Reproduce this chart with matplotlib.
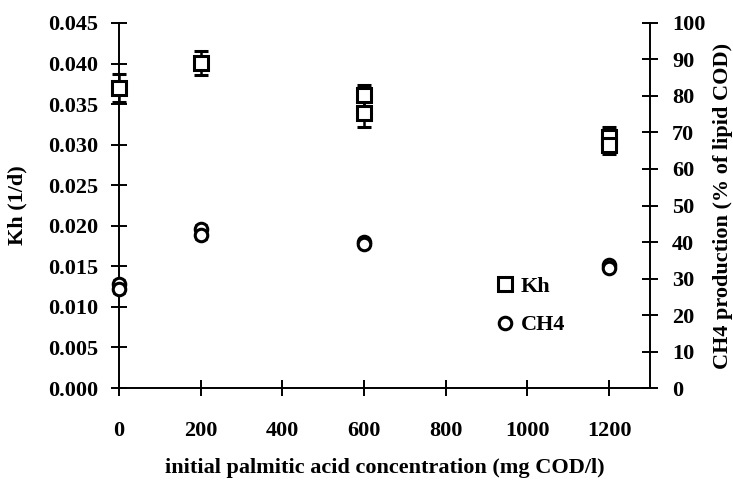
import matplotlib
matplotlib.use("Agg")
import matplotlib.pyplot as plt
from matplotlib.lines import Line2D

plt.rcParams['font.family'] = ['Liberation Serif', 'DejaVu Serif']
plt.rcParams['font.size'] = 16
plt.rcParams['font.weight'] = 'bold'
plt.rcParams['axes.labelweight'] = 'bold'

# Data
kh_x = [0, 200, 600, 600, 1200, 1200]
kh_y = [0.0370, 0.0401, 0.0361, 0.0339, 0.0310, 0.0300]
kh_err = [0.0017, 0.0015, 0.0013, 0.0017, 0.0012, 0.0012]

ch4_x = [0, 0, 200, 200, 600, 600, 1200, 1200]
ch4_y = [28.5, 27.0, 43.5, 42.0, 40.0, 39.5, 33.8, 33.0]
ch4_err = [1.0, 1.0, 1.2, 1.2, 0.6, 0.6, 0.8, 0.8]

x_ticks = [0, 200, 400, 600, 800, 1000, 1200]
left_ticks = [0.000, 0.005, 0.010, 0.015, 0.020, 0.025, 0.030, 0.035, 0.040, 0.045]
right_ticks = [0, 10, 20, 30, 40, 50, 60, 70, 80, 90, 100]

fig = plt.figure(figsize=(7.33, 4.82), dpi=100)
ax = fig.add_axes([0.1623, 0.195, 0.7245, 0.7573])
ax2 = ax.twinx()

ax.errorbar(kh_x, kh_y, yerr=kh_err, fmt='s', mfc='white', mec='black',
            mew=2.2, ms=10, ecolor='black', elinewidth=1.8, capsize=5,
            capthick=2.5, zorder=3, clip_on=False)
ax2.errorbar(ch4_x, ch4_y, yerr=ch4_err, fmt='o', mfc='white', mec='black',
             mew=2.2, ms=9, ecolor='black', elinewidth=1.8, capsize=4,
             capthick=2.5, zorder=3, clip_on=False)

ax.set_xlim(0, 1300)
ax.set_ylim(0, 0.045)
ax2.set_ylim(0, 100)

ax.set_xticks(x_ticks)
ax.set_xticklabels([str(v) for v in x_ticks])
ax.set_yticks(left_ticks)
ax.set_yticklabels([f"{v:.3f}" for v in left_ticks])
ax2.set_yticks(right_ticks)
ax2.set_yticklabels([str(v) for v in right_ticks])

for a in (ax, ax2):
    a.spines['top'].set_visible(False)
    for s in a.spines.values():
        s.set_linewidth(1.4)
ax.spines['right'].set_visible(False)
ax2.spines['left'].set_visible(False)
ax2.spines['bottom'].set_visible(False)

ax.tick_params(axis='both', direction='inout', length=12, width=1.4)
ax.tick_params(axis='y', pad=9)
ax.tick_params(axis='x', pad=18)
ax2.tick_params(axis='y', direction='inout', length=12, width=1.4, pad=10)

ax.set_xlabel("initial palmitic acid concentration (mg COD/l)", labelpad=12)
ax.set_ylabel("Kh (1/d)", labelpad=15)
ax2.set_ylabel("CH4 production (% of lipid COD)", labelpad=5)

handles = [
    Line2D([], [], ls='none', marker='s', mfc='white', mec='black', mew=2.2, ms=10),
    Line2D([], [], ls='none', marker='o', mfc='white', mec='black', mew=2.2, ms=9),
]
ax.legend(handles, ['Kh', 'CH4'], loc='center left', bbox_to_anchor=(0.69, 0.225),
          frameon=False, handlelength=0.8, handletextpad=0.3, labelspacing=0.8,
          borderpad=0)

fig.savefig("out.png", dpi=100)
